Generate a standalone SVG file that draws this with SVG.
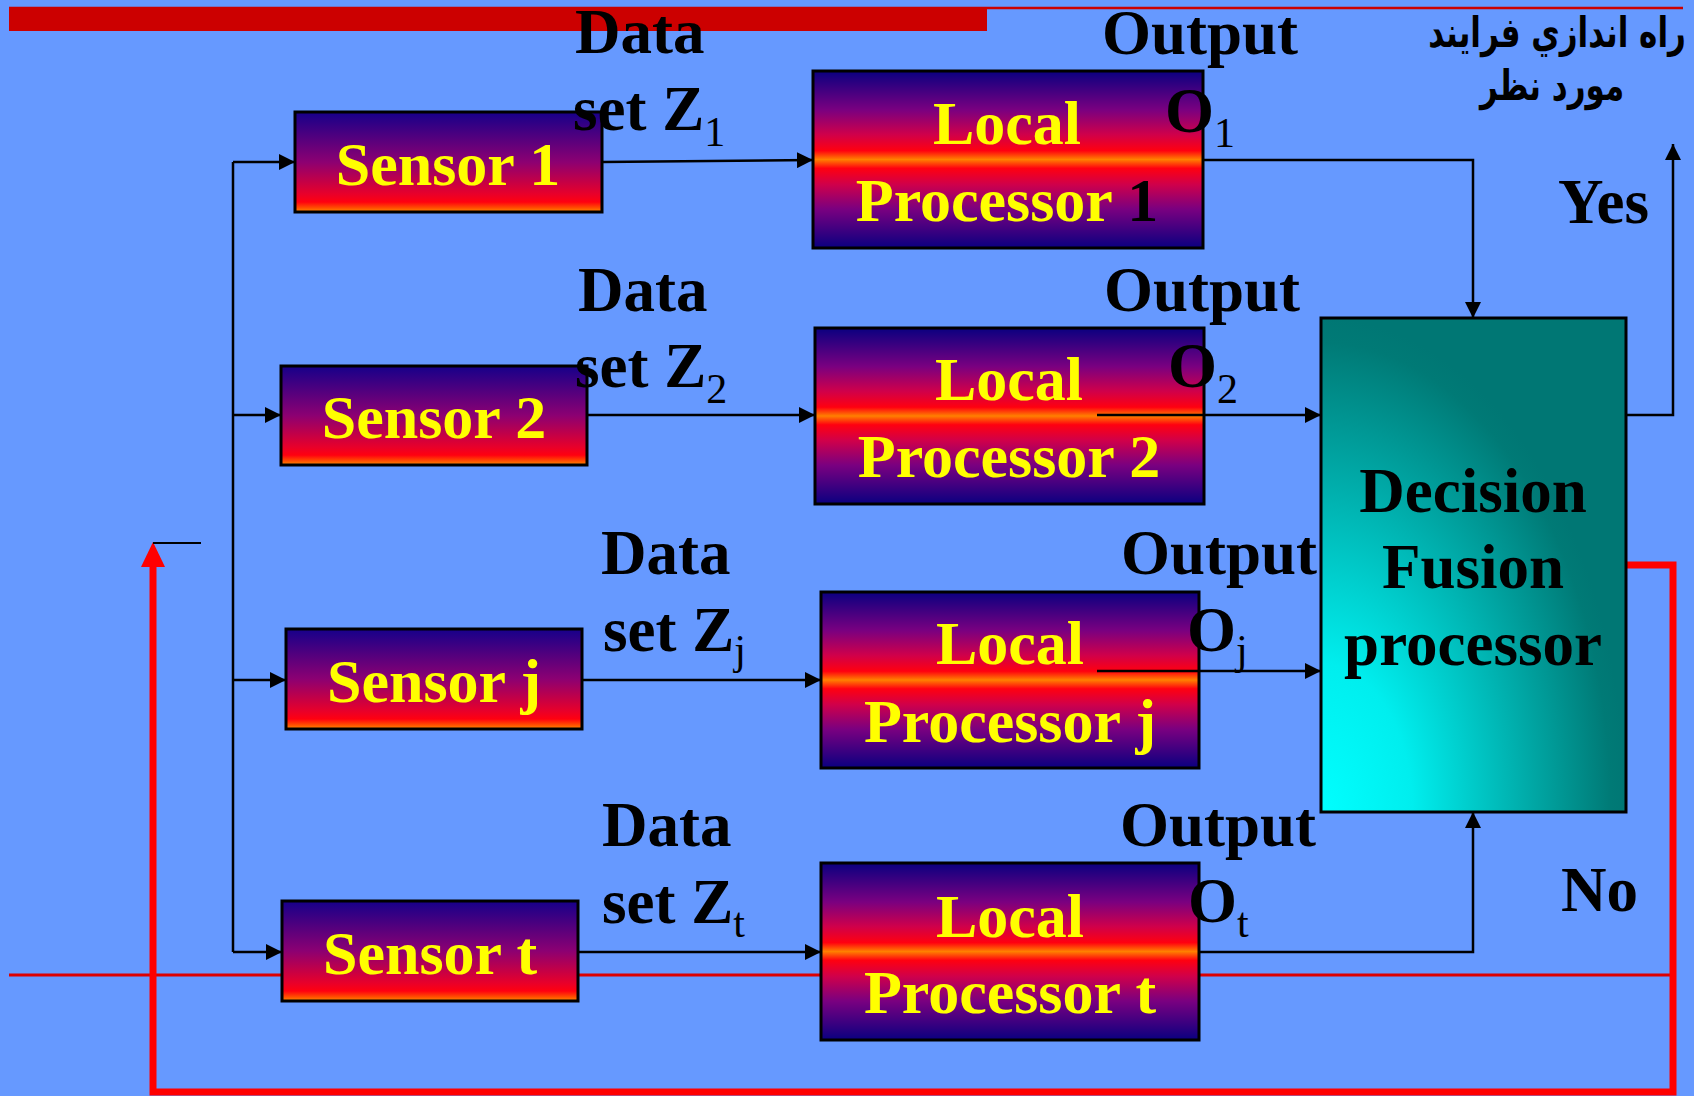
<svg xmlns="http://www.w3.org/2000/svg" width="1694" height="1096" viewBox="0 0 1694 1096">
  <style>
    .box { stroke: #000; stroke-width: 3; }
    .sensor { fill: url(#sensorGrad); }
    .proc { fill: url(#procGrad); }
    .fusion { fill: url(#fusionGrad); }
    .ylw { font-family: "Liberation Serif", "Times New Roman", serif; font-weight: bold; font-size: 62px; fill: #FFFF00; text-anchor: middle; }
    .lbl { font-family: "Liberation Serif", "Times New Roman", serif; font-weight: bold; font-size: 63px; fill: #000; }
    .mid { text-anchor: middle; }
    .sub { font-size: 42px; font-weight: normal; }
    .fa { font-family: "DejaVu Sans", sans-serif; font-weight: bold; font-size: 31px; fill: #000; text-anchor: middle; }
    .wire { fill: none; stroke: #000; stroke-width: 2.5; }
    .arrow { marker-end: url(#head); }
    .loop { fill: none; stroke: #FF0000; stroke-width: 7; }
  </style>
  <defs>
    <linearGradient id="sensorGrad" x1="0" y1="0" x2="0" y2="1">
      <stop offset="0" stop-color="#16008A"/>
      <stop offset="0.5" stop-color="#8C0072"/>
      <stop offset="0.82" stop-color="#E8002A"/>
      <stop offset="0.9" stop-color="#FF0010"/>
      <stop offset="0.96" stop-color="#FF5000"/>
      <stop offset="1" stop-color="#FF8C00"/>
    </linearGradient>
    <linearGradient id="procGrad" x1="0" y1="0" x2="0" y2="1">
      <stop offset="0" stop-color="#0A0080"/>
      <stop offset="0.22" stop-color="#7A0080"/>
      <stop offset="0.36" stop-color="#D0004A"/>
      <stop offset="0.45" stop-color="#FF0010"/>
      <stop offset="0.5" stop-color="#FF8000"/>
      <stop offset="0.55" stop-color="#FF0010"/>
      <stop offset="0.64" stop-color="#D0004A"/>
      <stop offset="0.78" stop-color="#7A0080"/>
      <stop offset="1" stop-color="#0A0080"/>
    </linearGradient>
    <radialGradient id="fusionGrad" cx="0" cy="1" r="1" fx="0" fy="1">
      <stop offset="0" stop-color="#00FFFF"/>
      <stop offset="0.3" stop-color="#00EEEE"/>
      <stop offset="0.95" stop-color="#007A76"/>
      <stop offset="1" stop-color="#007774"/>
    </radialGradient>
    <marker id="head" markerUnits="userSpaceOnUse" markerWidth="16" markerHeight="16" refX="16" refY="8" orient="auto">
      <path d="M0,0 L16,8 L0,16 z" fill="#000"/>
    </marker>
  </defs>

  <!-- background -->
  <rect x="0" y="0" width="1694" height="1096" fill="#6699FF"/>

  <!-- decorative rules -->
  <rect x="9" y="7" width="978" height="24" fill="#CC0000"/>
  <line x1="9" y1="8" x2="1683" y2="8" stroke="#CC0000" stroke-width="2.5"/>
  <line x1="9" y1="975" x2="1672" y2="975" stroke="#DD0000" stroke-width="3"/>

  <!-- feedback loop (No branch) -->
  <g id="feedback">
    <path class="loop" d="M1626 565 H1673 V1092 H153 V564"/>
    <polygon points="153,542 141,567 165,567" fill="#FF0000"/>
    <line x1="153" y1="543" x2="201" y2="543" stroke="#000" stroke-width="2"/>
  </g>

  <!-- sensors -->
  <g id="sensor1">
    <rect class="box sensor" x="295" y="112" width="307" height="100"/>
    <text class="ylw" x="448" y="185">Sensor 1</text>
  </g>
  <g id="sensor2">
    <rect class="box sensor" x="281" y="366" width="306" height="99"/>
    <text class="ylw" x="434" y="438">Sensor 2</text>
  </g>
  <g id="sensorj">
    <rect class="box sensor" x="286" y="629" width="296" height="100"/>
    <text class="ylw" x="434" y="702">Sensor j</text>
  </g>
  <g id="sensort">
    <rect class="box sensor" x="282" y="901" width="296" height="100"/>
    <text class="ylw" x="430" y="974">Sensor t</text>
  </g>

  <!-- local processors -->
  <g id="proc1">
    <rect class="box proc" x="813" y="71" width="390" height="177"/>
    <text class="ylw" x="1007" y="144">Local</text>
    <text class="ylw" x="1007" y="221">Processor <tspan fill="#000">1</tspan></text>
  </g>
  <g id="proc2">
    <rect class="box proc" x="815" y="328" width="389" height="176"/>
    <text class="ylw" x="1009" y="400">Local</text>
    <text class="ylw" x="1009" y="477">Processor 2</text>
  </g>
  <g id="procj">
    <rect class="box proc" x="821" y="592" width="378" height="176"/>
    <text class="ylw" x="1010" y="664">Local</text>
    <text class="ylw" x="1010" y="742">Processor j</text>
  </g>
  <g id="proct">
    <rect class="box proc" x="821" y="863" width="378" height="177"/>
    <text class="ylw" x="1010" y="937">Local</text>
    <text class="ylw" x="1010" y="1013">Processor t</text>
  </g>

  <!-- decision fusion -->
  <g id="fusion">
    <rect class="box fusion" x="1321" y="318" width="305" height="494"/>
    <text class="lbl mid" x="1473" y="512">Decision</text>
    <text class="lbl mid" x="1473" y="588">Fusion</text>
    <text class="lbl mid" x="1473" y="665">processor</text>
  </g>

  <!-- connectors -->
  <g id="connectors">
    <path class="wire" d="M233 162 V952"/>
    <path class="wire arrow" d="M233 162 H295"/>
    <path class="wire arrow" d="M233 415 H281"/>
    <path class="wire arrow" d="M233 680 H286"/>
    <path class="wire arrow" d="M233 952 H282"/>
    <path class="wire arrow" d="M602 162 L813 160"/>
    <path class="wire arrow" d="M587 415 H815"/>
    <path class="wire arrow" d="M582 680 H821"/>
    <path class="wire arrow" d="M578 952 H821"/>
    <path class="wire arrow" d="M1203 160 H1473 V318"/>
    <path class="wire arrow" d="M1097 415 H1321"/>
    <path class="wire arrow" d="M1097 671 H1321"/>
    <path class="wire arrow" d="M1199 952 H1473 V812"/>
    <path class="wire arrow" d="M1626 415 H1673 V144"/>
  </g>

  <!-- data set labels -->
  <g id="labels-data">
    <text class="lbl" x="575" y="53">Data</text>
    <text class="lbl" x="573" y="130">set Z<tspan class="sub" dy="16">1</tspan></text>
    <text class="lbl" x="578" y="311">Data</text>
    <text class="lbl" x="575" y="387">set Z<tspan class="sub" dy="16">2</tspan></text>
    <text class="lbl" x="601" y="574">Data</text>
    <text class="lbl" x="603" y="651">set Z<tspan class="sub" dy="13">j</tspan></text>
    <text class="lbl" x="602" y="846">Data</text>
    <text class="lbl" x="602" y="923">set Z<tspan class="sub" dy="14">t</tspan></text>
  </g>

  <!-- output labels -->
  <g id="labels-output">
    <text class="lbl" x="1102" y="54">Output</text>
    <text class="lbl" x="1165" y="132">O<tspan class="sub" dy="15">1</tspan></text>
    <text class="lbl" x="1104" y="311">Output</text>
    <text class="lbl" x="1168" y="387">O<tspan class="sub" dy="16">2</tspan></text>
    <text class="lbl" x="1121" y="574">Output</text>
    <text class="lbl" x="1187" y="651">O<tspan class="sub" dy="13">j</tspan></text>
    <text class="lbl" x="1120" y="846">Output</text>
    <text class="lbl" x="1188" y="922">O<tspan class="sub" dy="15">t</tspan></text>
  </g>

  <!-- decision branch labels -->
  <g id="labels-branch">
    <text class="lbl" x="1558" y="223" font-size="60">Yes</text>
    <text class="lbl" x="1561" y="911">No</text>
    <text class="fa" transform="translate(1557 47) scale(1 1.35)" x="0" y="0">راه اندازي فرايند</text>
    <text class="fa" transform="translate(1552 100) scale(1 1.35)" x="0" y="0">مورد نظر</text>
  </g>
</svg>
